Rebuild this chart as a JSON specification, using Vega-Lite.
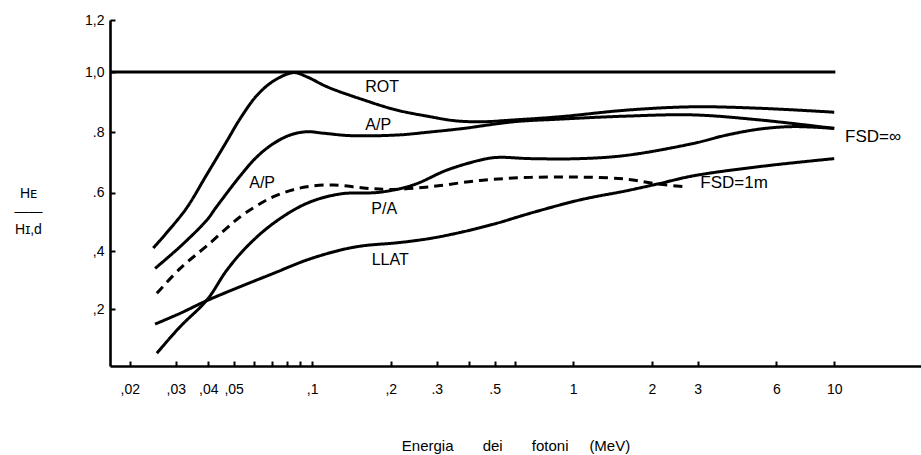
{
  "$schema": "https://vega.github.io/schema/vega-lite/v6.json",
  "autosize": {"type": "none"},
  "padding": {"left": 110, "top": 20, "right": 0, "bottom": 89},
  "width": 811,
  "height": 346,
  "background": "white",
  "config": {
    "view": {"stroke": null},
    "font": "Liberation Sans",
    "axis": {"grid": false, "domainColor": "black", "domainWidth": 2.6, "tickColor": "black", "labelColor": "black", "titleColor": "black", "labelFont": "Liberation Sans", "titleFont": "Liberation Sans"}
  },
  "datasets": {
    "curves": [
      {"curve": "ROT", "style": "solid", "E": 0.0246, "H": 0.41},
      {"curve": "ROT", "style": "solid", "E": 0.0326, "H": 0.54},
      {"curve": "ROT", "style": "solid", "E": 0.0395, "H": 0.66},
      {"curve": "ROT", "style": "solid", "E": 0.0471, "H": 0.77},
      {"curve": "ROT", "style": "solid", "E": 0.053, "H": 0.845},
      {"curve": "ROT", "style": "solid", "E": 0.0614, "H": 0.922},
      {"curve": "ROT", "style": "solid", "E": 0.0711, "H": 0.97},
      {"curve": "ROT", "style": "solid", "E": 0.0848, "H": 0.998},
      {"curve": "ROT", "style": "solid", "E": 0.0954, "H": 0.984},
      {"curve": "ROT", "style": "solid", "E": 0.1138, "H": 0.951},
      {"curve": "ROT", "style": "solid", "E": 0.1573, "H": 0.907},
      {"curve": "ROT", "style": "solid", "E": 0.211, "H": 0.873},
      {"curve": "ROT", "style": "solid", "E": 0.283, "H": 0.851},
      {"curve": "ROT", "style": "solid", "E": 0.348, "H": 0.838},
      {"curve": "ROT", "style": "solid", "E": 0.44, "H": 0.834},
      {"curve": "ROT", "style": "solid", "E": 0.589, "H": 0.84},
      {"curve": "ROT", "style": "solid", "E": 0.892, "H": 0.851},
      {"curve": "ROT", "style": "solid", "E": 1.606, "H": 0.873},
      {"curve": "ROT", "style": "solid", "E": 2.88, "H": 0.884},
      {"curve": "ROT", "style": "solid", "E": 5.21, "H": 0.879},
      {"curve": "ROT", "style": "solid", "E": 10, "H": 0.866},

      {"curve": "A/P", "style": "solid", "E": 0.025, "H": 0.34},
      {"curve": "A/P", "style": "solid", "E": 0.0312, "H": 0.415},
      {"curve": "A/P", "style": "solid", "E": 0.0395, "H": 0.506},
      {"curve": "A/P", "style": "solid", "E": 0.0429, "H": 0.55},
      {"curve": "A/P", "style": "solid", "E": 0.053, "H": 0.655},
      {"curve": "A/P", "style": "solid", "E": 0.0614, "H": 0.718},
      {"curve": "A/P", "style": "solid", "E": 0.0711, "H": 0.762},
      {"curve": "A/P", "style": "solid", "E": 0.0823, "H": 0.79},
      {"curve": "A/P", "style": "solid", "E": 0.0954, "H": 0.801},
      {"curve": "A/P", "style": "solid", "E": 0.1105, "H": 0.796},
      {"curve": "A/P", "style": "solid", "E": 0.14, "H": 0.788},
      {"curve": "A/P", "style": "solid", "E": 0.211, "H": 0.79},
      {"curve": "A/P", "style": "solid", "E": 0.283, "H": 0.8},
      {"curve": "A/P", "style": "solid", "E": 0.38, "H": 0.812},
      {"curve": "A/P", "style": "solid", "E": 0.589, "H": 0.834},
      {"curve": "A/P", "style": "solid", "E": 0.892, "H": 0.843},
      {"curve": "A/P", "style": "solid", "E": 1.606, "H": 0.853},
      {"curve": "A/P", "style": "solid", "E": 2.88, "H": 0.857},
      {"curve": "A/P", "style": "solid", "E": 5.21, "H": 0.84},
      {"curve": "A/P", "style": "solid", "E": 10, "H": 0.812},

      {"curve": "P/A", "style": "solid", "E": 0.0254, "H": 0.045},
      {"curve": "P/A", "style": "solid", "E": 0.0312, "H": 0.138},
      {"curve": "P/A", "style": "solid", "E": 0.0395, "H": 0.231},
      {"curve": "P/A", "style": "solid", "E": 0.0471, "H": 0.334},
      {"curve": "P/A", "style": "solid", "E": 0.0562, "H": 0.415},
      {"curve": "P/A", "style": "solid", "E": 0.0711, "H": 0.495},
      {"curve": "P/A", "style": "solid", "E": 0.0954, "H": 0.563},
      {"curve": "P/A", "style": "solid", "E": 0.128, "H": 0.595},
      {"curve": "P/A", "style": "solid", "E": 0.182, "H": 0.601},
      {"curve": "P/A", "style": "solid", "E": 0.244, "H": 0.625},
      {"curve": "P/A", "style": "solid", "E": 0.328, "H": 0.674},
      {"curve": "P/A", "style": "solid", "E": 0.44, "H": 0.707},
      {"curve": "P/A", "style": "solid", "E": 0.51, "H": 0.716},
      {"curve": "P/A", "style": "solid", "E": 0.684, "H": 0.712},
      {"curve": "P/A", "style": "solid", "E": 1.065, "H": 0.712},
      {"curve": "P/A", "style": "solid", "E": 1.606, "H": 0.723},
      {"curve": "P/A", "style": "solid", "E": 2.88, "H": 0.762},
      {"curve": "P/A", "style": "solid", "E": 3.88, "H": 0.79},
      {"curve": "P/A", "style": "solid", "E": 5.21, "H": 0.81},
      {"curve": "P/A", "style": "solid", "E": 6.97, "H": 0.818},
      {"curve": "P/A", "style": "solid", "E": 10, "H": 0.812},

      {"curve": "LLAT", "style": "solid", "E": 0.025, "H": 0.147},
      {"curve": "LLAT", "style": "solid", "E": 0.0312, "H": 0.185},
      {"curve": "LLAT", "style": "solid", "E": 0.0395, "H": 0.229},
      {"curve": "LLAT", "style": "solid", "E": 0.053, "H": 0.277},
      {"curve": "LLAT", "style": "solid", "E": 0.0711, "H": 0.323},
      {"curve": "LLAT", "style": "solid", "E": 0.0954, "H": 0.369},
      {"curve": "LLAT", "style": "solid", "E": 0.128, "H": 0.403},
      {"curve": "LLAT", "style": "solid", "E": 0.157, "H": 0.418},
      {"curve": "LLAT", "style": "solid", "E": 0.211, "H": 0.428},
      {"curve": "LLAT", "style": "solid", "E": 0.283, "H": 0.443},
      {"curve": "LLAT", "style": "solid", "E": 0.38, "H": 0.466},
      {"curve": "LLAT", "style": "solid", "E": 0.51, "H": 0.495},
      {"curve": "LLAT", "style": "solid", "E": 0.684, "H": 0.529},
      {"curve": "LLAT", "style": "solid", "E": 1.065, "H": 0.575},
      {"curve": "LLAT", "style": "solid", "E": 1.606, "H": 0.606},
      {"curve": "LLAT", "style": "solid", "E": 2.15, "H": 0.63},
      {"curve": "LLAT", "style": "solid", "E": 2.88, "H": 0.655},
      {"curve": "LLAT", "style": "solid", "E": 5.21, "H": 0.686},
      {"curve": "LLAT", "style": "solid", "E": 10, "H": 0.712},

      {"curve": "FSD=1m", "style": "dashed", "E": 0.0254, "H": 0.254},
      {"curve": "FSD=1m", "style": "dashed", "E": 0.0312, "H": 0.34},
      {"curve": "FSD=1m", "style": "dashed", "E": 0.0395, "H": 0.418},
      {"curve": "FSD=1m", "style": "dashed", "E": 0.053, "H": 0.517},
      {"curve": "FSD=1m", "style": "dashed", "E": 0.0614, "H": 0.555},
      {"curve": "FSD=1m", "style": "dashed", "E": 0.0711, "H": 0.586},
      {"curve": "FSD=1m", "style": "dashed", "E": 0.0823, "H": 0.606},
      {"curve": "FSD=1m", "style": "dashed", "E": 0.0954, "H": 0.619},
      {"curve": "FSD=1m", "style": "dashed", "E": 0.1207, "H": 0.625},
      {"curve": "FSD=1m", "style": "dashed", "E": 0.157, "H": 0.615},
      {"curve": "FSD=1m", "style": "dashed", "E": 0.199, "H": 0.61},
      {"curve": "FSD=1m", "style": "dashed", "E": 0.283, "H": 0.619},
      {"curve": "FSD=1m", "style": "dashed", "E": 0.44, "H": 0.64},
      {"curve": "FSD=1m", "style": "dashed", "E": 0.684, "H": 0.65},
      {"curve": "FSD=1m", "style": "dashed", "E": 1.065, "H": 0.651},
      {"curve": "FSD=1m", "style": "dashed", "E": 1.606, "H": 0.644},
      {"curve": "FSD=1m", "style": "dashed", "E": 2.15, "H": 0.627},
      {"curve": "FSD=1m", "style": "dashed", "E": 2.73, "H": 0.619}
    ],
    "labels": [
      {"label": "ROT", "E": 0.1854, "H": 0.95, "anchor": "center"},
      {"label": "A/P", "E": 0.179, "H": 0.823, "anchor": "center"},
      {"label": "A/P", "E": 0.0643, "H": 0.631, "anchor": "center"},
      {"label": "P/A", "E": 0.1887, "H": 0.545, "anchor": "center"},
      {"label": "LLAT", "E": 0.199, "H": 0.369, "anchor": "center"},
      {"label": "FSD=1m", "E": 3.07, "H": 0.631, "anchor": "left"},
      {"label": "FSD=∞", "E": 11.0, "H": 0.783, "anchor": "left"}
    ],
    "ref": [{"E0": 0.0168, "E1": 10.1, "H": 1.0}]
  },
  "layer": [
    {
      "data": {"name": "curves"},
      "mark": {"type": "line", "interpolate": "catmull-rom", "color": "black", "strokeWidth": 3},
      "encoding": {
        "x": {
          "field": "E", "type": "quantitative",
          "scale": {"type": "log", "domain": [0.0168, 21.5], "range": [0, 811], "nice": false},
          "axis": {
            "values": [0.02, 0.03, 0.04, 0.05, 0.06, 0.07, 0.08, 0.09, 0.1, 0.2, 0.3, 0.4, 0.5, 0.6, 1, 2, 3, 6, 10],
            "labelExpr": "datum.value == 0.02 ? ',02' : datum.value == 0.03 ? ',03' : datum.value == 0.04 ? ',04' : datum.value == 0.05 ? ',05' : datum.value == 0.1 ? ',1' : datum.value == 0.2 ? ',2' : datum.value == 0.3 ? '.3' : datum.value == 0.5 ? '.5' : datum.value == 1 ? '1' : datum.value == 2 ? '2' : datum.value == 3 ? '3' : datum.value == 6 ? '6' : datum.value == 10 ? '10' : ''",
            "tickSize": -5, "tickWidth": 2, "labelPadding": 21, "labelFontSize": 14,
            "labelFlush": false, "labelOverlap": false,
            "title": "Energia\u00a0\u00a0\u00a0\u00a0\u00a0\u00a0\u00a0dei\u00a0\u00a0\u00a0\u00a0\u00a0\u00a0\u00a0fotoni\u00a0\u00a0\u00a0\u00a0\u00a0(MeV)",
            "titleFontSize": 15, "titleFontWeight": "normal",
            "titleY": 84, "titleBaseline": "alphabetic"
          }
        },
        "y": {
          "field": "H", "type": "quantitative",
          "scale": {"domain": [0, 0.2, 0.4, 0.6, 0.8, 1.0, 1.2], "range": [346, 289, 231, 172.5, 112, 52, 0], "nice": false, "zero": false},
          "axis": {
            "values": [0.2, 0.4, 0.6, 0.8, 1.0, 1.2],
            "labelExpr": "datum.value == 0.2 ? ',2' : datum.value == 0.4 ? ',4' : datum.value == 0.6 ? '.6' : datum.value == 0.8 ? '.8' : datum.value == 1 ? '1,0' : '1,2'",
            "tickSize": -5, "tickWidth": 2, "labelPadding": 11, "labelFontSize": 14,
            "labelFlush": false, "labelOverlap": false,
            "title": ["Hᴇ", "——", "Hɪ,d"],
            "titleAngle": 0, "titleX": -82, "titleY": 173,
            "titleAlign": "center", "titleBaseline": "middle",
            "titleFontSize": 14, "titleFontWeight": "normal", "titleLineHeight": 18
          }
        },
        "detail": {"field": "curve"},
        "strokeDash": {"field": "style", "type": "nominal", "scale": {"domain": ["solid", "dashed"], "range": [[1, 0], [9, 6]]}, "legend": null}
      }
    },
    {
      "data": {"name": "ref"},
      "mark": {"type": "rule", "color": "black", "strokeWidth": 2.8},
      "encoding": {
        "x": {"field": "E0", "type": "quantitative"},
        "x2": {"field": "E1"},
        "y": {"field": "H", "type": "quantitative"}
      }
    },
    {
      "mark": {"type": "rule", "color": "black", "strokeWidth": 2.6},
      "encoding": {"y": {"datum": 1.2, "type": "quantitative"}}
    },
    {
      "data": {"name": "labels"},
      "transform": [{"filter": "datum.anchor == 'center'"}],
      "mark": {"type": "text", "align": "center", "baseline": "middle", "fontSize": 16, "font": "Liberation Sans", "color": "black"},
      "encoding": {
        "x": {"field": "E", "type": "quantitative"},
        "y": {"field": "H", "type": "quantitative"},
        "text": {"field": "label"}
      }
    },
    {
      "data": {"name": "labels"},
      "transform": [{"filter": "datum.anchor == 'left'"}],
      "mark": {"type": "text", "align": "left", "baseline": "middle", "fontSize": 17, "font": "Liberation Sans", "color": "black"},
      "encoding": {
        "x": {"field": "E", "type": "quantitative"},
        "y": {"field": "H", "type": "quantitative"},
        "text": {"field": "label"}
      }
    }
  ]
}
